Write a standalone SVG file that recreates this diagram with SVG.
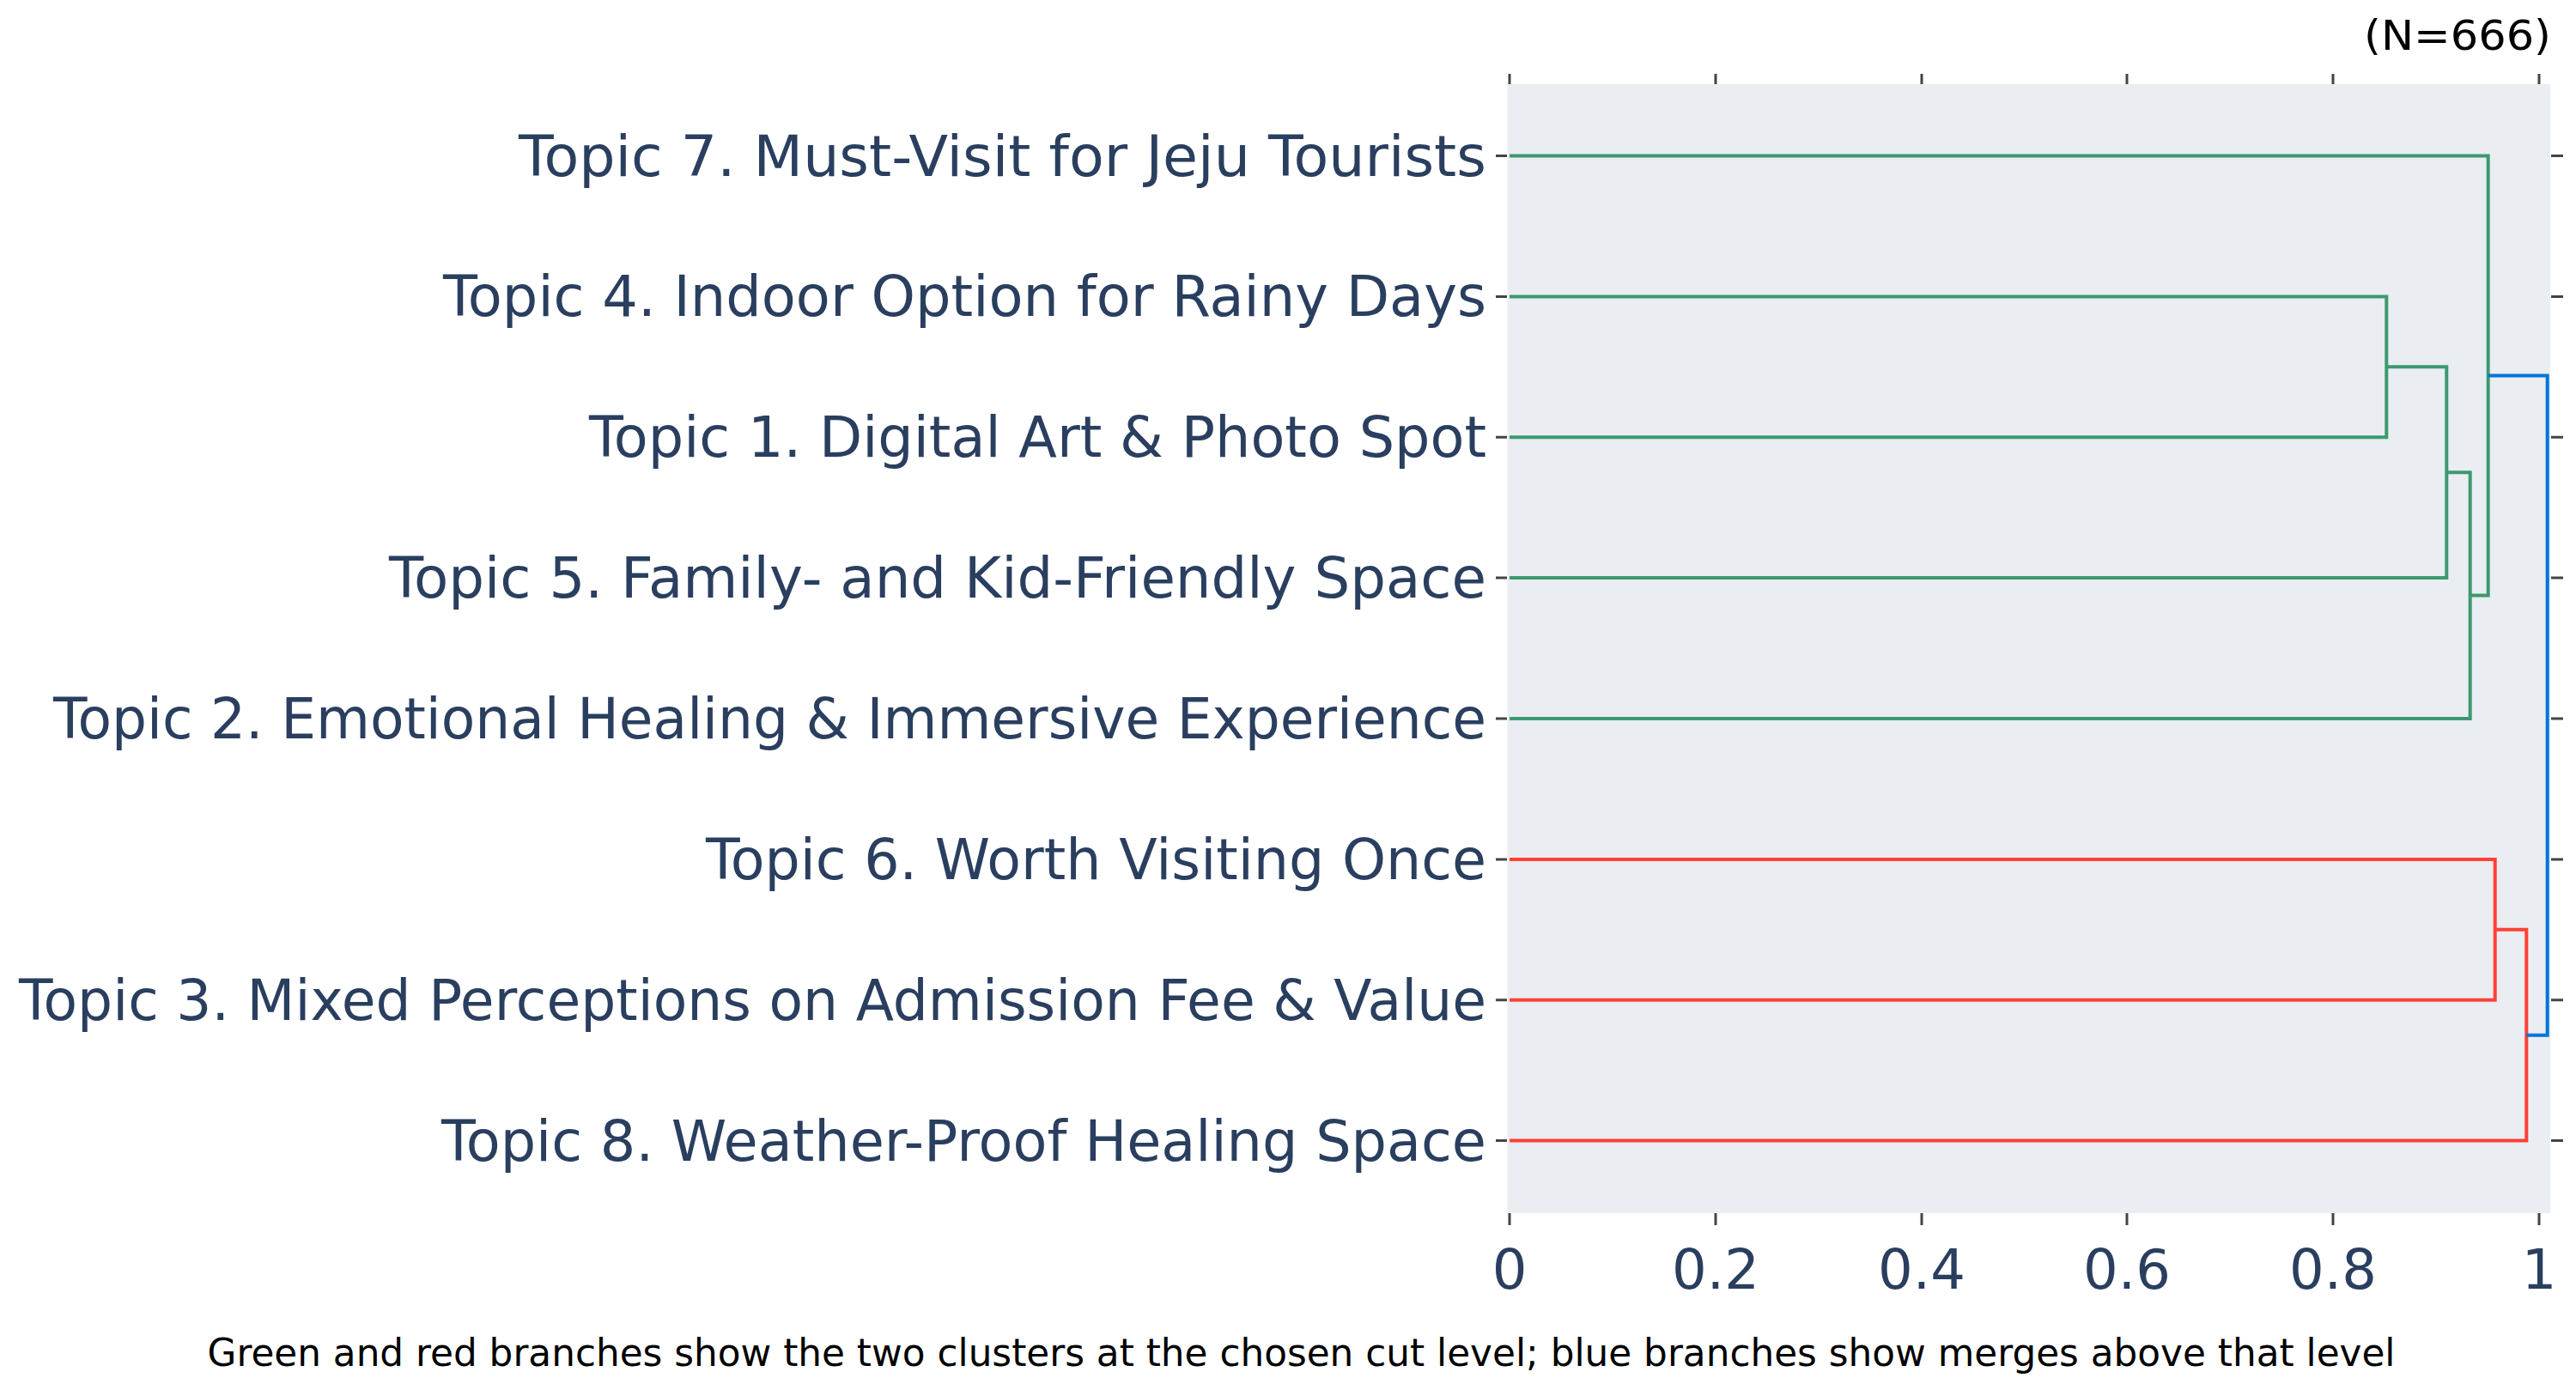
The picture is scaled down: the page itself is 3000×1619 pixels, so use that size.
<svg xmlns="http://www.w3.org/2000/svg" width="3000" height="1619" viewBox="0 0 3000 1619">
<style>
.lbl{font-family:"DejaVu Sans",Verdana,sans-serif;font-size:65px;fill:#2A3F5F;text-anchor:end}
.tk{font-family:"DejaVu Sans",Verdana,sans-serif;font-size:64px;fill:#2A3F5F;text-anchor:middle}
.cap{font-family:"DejaVu Sans",Verdana,sans-serif;font-size:44px;fill:#000;text-anchor:middle}
.ticks{stroke:#444;stroke-width:3;fill:none}
.br{fill:none;stroke-width:4;stroke-linejoin:miter}
.g{stroke:#3D9970}.r{stroke:#FF4136}.b{stroke:#0074D9}
</style>
<rect width="3000" height="1619" fill="#FFFFFF"/>
<rect x="1755.5" y="98" width="1214.5" height="1315" fill="#EAEDF1"/>
<g id="axes" class="ticks">
<path d="M1758,86V98M1998,86V98M2238,86V98M2477,86V98M2717,86V98M2957,86V98"/>
<path d="M1758,1413V1427M1998,1413V1427M2238,1413V1427M2477,1413V1427M2717,1413V1427M2957,1413V1427"/>
<path d="M1742,181.5H1755M1742,345.4H1755M1742,509.2H1755M1742,673.1H1755M1742,837H1755M1742,1000.9H1755M1742,1164.7H1755M1742,1328.6H1755"/>
<path d="M2971,181.5H2985M2971,345.4H2985M2971,509.2H2985M2971,673.1H2985M2971,837H2985M2971,1000.9H2985M2971,1164.7H2985M2971,1328.6H2985"/>
</g>
<g id="ticklabels">
<text class="tk" x="1758" y="1501">0</text>
<text class="tk" x="1998" y="1501">0.2</text>
<text class="tk" x="2238" y="1501">0.4</text>
<text class="tk" x="2477" y="1501">0.6</text>
<text class="tk" x="2717" y="1501">0.8</text>
<text class="tk" x="2957" y="1501">1</text>
</g>
<g id="connectors">
<path class="br g" d="M1758,345.4H2779.3V509.2H1758"/>
<path class="br g" d="M2779.3,427.3H2849.3V673.1H1758"/>
<path class="br g" d="M2849.3,550.2H2876.7V837H1758"/>
<path class="br g" d="M1758,181.5H2897.7V693.6H2876.7"/>
<path class="br r" d="M1758,1000.9H2905.7V1164.7H1758"/>
<path class="br r" d="M2905.7,1082.8H2942.3V1328.6H1758"/>
<path class="br b" d="M2897.7,437.5H2966.7V1205.7H2942.3"/>
</g>
<g id="node-topic7"><text class="lbl" x="1731" y="204.5" textLength="1127" lengthAdjust="spacingAndGlyphs">Topic 7. Must-Visit for Jeju Tourists</text></g>
<g id="node-topic4"><text class="lbl" x="1731" y="368.4" textLength="1215" lengthAdjust="spacingAndGlyphs">Topic 4. Indoor Option for Rainy Days</text></g>
<g id="node-topic1"><text class="lbl" x="1731" y="532.2" textLength="1045" lengthAdjust="spacingAndGlyphs">Topic 1. Digital Art &amp; Photo Spot</text></g>
<g id="node-topic5"><text class="lbl" x="1731" y="696.1" textLength="1278" lengthAdjust="spacingAndGlyphs">Topic 5. Family- and Kid-Friendly Space</text></g>
<g id="node-topic2"><text class="lbl" x="1731" y="860" textLength="1669" lengthAdjust="spacingAndGlyphs">Topic 2. Emotional Healing &amp; Immersive Experience</text></g>
<g id="node-topic6"><text class="lbl" x="1731" y="1023.9" textLength="909" lengthAdjust="spacingAndGlyphs">Topic 6. Worth Visiting Once</text></g>
<g id="node-topic3"><text class="lbl" x="1731" y="1187.7" textLength="1709" lengthAdjust="spacingAndGlyphs">Topic 3. Mixed Perceptions on Admission Fee &amp; Value</text></g>
<g id="node-topic8"><text class="lbl" x="1731" y="1351.6" textLength="1217" lengthAdjust="spacingAndGlyphs">Topic 8. Weather-Proof Healing Space</text></g>
<text x="2971" y="58" font-family="DejaVu Sans, Verdana, sans-serif" font-size="48" fill="#000" text-anchor="end" textLength="218" lengthAdjust="spacingAndGlyphs">(N=666)</text>
<text class="cap" x="1515.5" y="1591" textLength="2548" lengthAdjust="spacingAndGlyphs">Green and red branches show the two clusters at the chosen cut level; blue branches show merges above that level</text>
</svg>
